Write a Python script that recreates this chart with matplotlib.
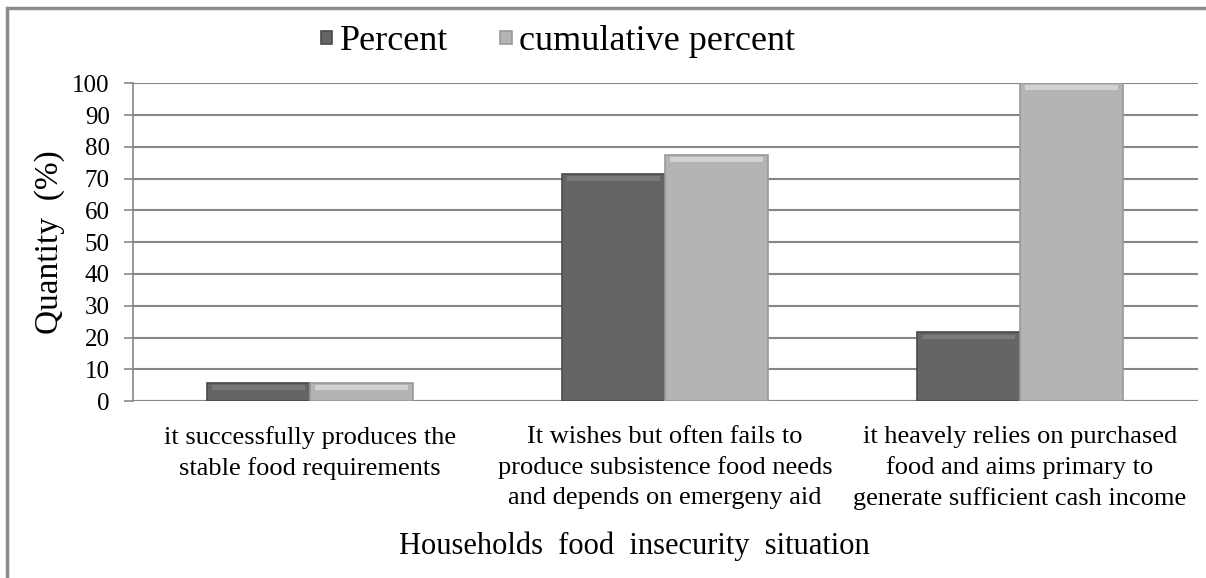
import numpy as np
import matplotlib.pyplot as plt
from matplotlib.patches import Rectangle

plt.rcParams["font.family"] = ["Liberation Serif", "DejaVu Serif"]

# data
categories = [
    "it successfully produces the\nstable food requirements",
    "It wishes but often fails to\nproduce subsistence food needs\nand depends on emergeny aid",
    "it heavely relies on purchased\nfood and aims primary to\ngenerate sufficient cash income",
]
percent = [5.8, 71.6, 21.6]
cumulative = [5.8, 77.4, 100.0]
yticks = list(range(0, 101, 10))

dark = "#656565"
light = "#b4b4b4"

fig = plt.figure(figsize=(12.06, 5.78), dpi=100)
ax = fig.add_axes([0.110, 0.306, 0.883, 0.550])

x = np.arange(len(categories))
w = 0.29

ax.bar(x - w / 2, percent, w, color=dark, edgecolor="#4a4a4a", linewidth=1.2,
       label="Percent", zorder=3)
ax.bar(x + w / 2, cumulative, w, color=light, edgecolor="#999999", linewidth=1.2,
       label="cumulative percent", zorder=3)

# bevel highlight at the top of each bar
for xs, vals, hi in [(x - w / 2, percent, "#7a7a7a"), (x + w / 2, cumulative, "#d2d2d2")]:
    for xi, v in zip(xs, vals):
        ax.bar(xi, 1.5, w * 0.9, bottom=v - 2.2, color=hi, linewidth=0, zorder=4)

ax.set_xlim(-0.5, 2.5)
ax.set_ylim(0, 100)
ax.set_yticks(yticks)
ax.yaxis.grid(True, color="#868686", linewidth=1.5, zorder=0)
ax.set_axisbelow(True)
for s in ["top", "right", "bottom"]:
    ax.spines[s].set_visible(False)
ax.spines["left"].set_color("#868686")
ax.spines["left"].set_linewidth(1.2)
ax.axhline(0, color="#868686", linewidth=1.5, zorder=2)
ax.tick_params(axis="y", length=6.5, width=1.2, color="#868686", labelsize=18, pad=10)
ax.tick_params(axis="x", length=0, pad=18)
ax.set_xticks(x)
ax.set_xticklabels(categories, fontsize=19, linespacing=1.45)

ax.set_ylabel("Quantity  (%)", fontsize=24)
ax.yaxis.set_label_coords(-0.064, 0.5)
ax.set_xlabel("Households  food  insecurity  situation", fontsize=22)
ax.xaxis.set_label_coords(0.471, -0.41)

ax.legend(loc="center", bbox_to_anchor=(0.3995, 1.13), ncol=2, frameon=False,
          fontsize=26, handlelength=0.32, handleheight=0.2, columnspacing=1.45,
          handletextpad=0.2)

# outer frame of the figure (right and bottom run off the page)
fig.patches.append(Rectangle((7 / 1206, -0.1), 1.2, 1 - 8 / 578 + 0.1,
                             transform=fig.transFigure, fill=False,
                             edgecolor="#8c8c8c", linewidth=2.5))

fig.savefig("out.png", dpi=100)
